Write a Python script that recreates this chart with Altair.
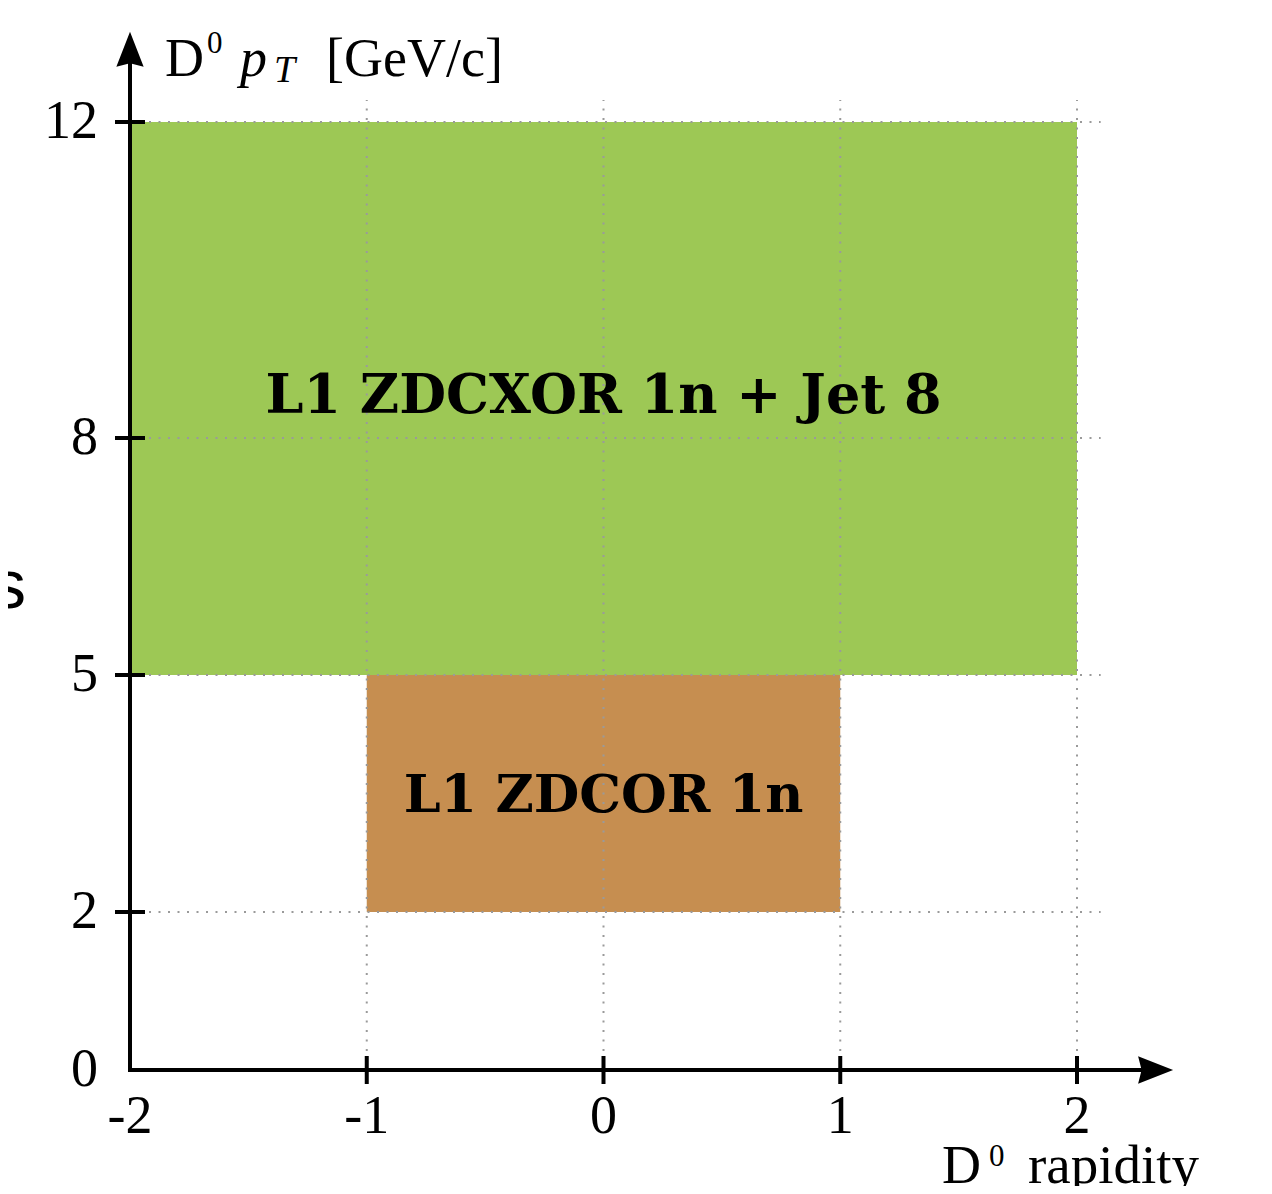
import altair as alt
import pandas as pd

# ---------------- data ----------------
box_labels = ["L1 ZDCXOR 1n + Jet 8", "L1 ZDCOR 1n"]
box_x1 = [-2, -1]
box_x2 = [2, 1]
box_y1 = [5, 2]
box_y2 = [12, 5]
box_colors = ["#9DC855", "#C68E50"]
box_label_x = [0, 0]
box_label_y = [8.32, 3.27]
box_label_size = [54, 52.5]

x_tick_vals = [-1, 0, 1, 2]
y_tick_vals = [2, 5, 8, 12]
x_label_vals = [-2, -1, 0, 1, 2]
x_label_txt = ["-2", "-1", "0", "1", "2"]
y_label_vals = [0, 2, 5, 8, 12]
y_label_txt = ["0", "2", "5", "8", "12"]

grid_x_top = 12.28   # vertical dotted grid lines run from 0 to here
grid_y_right = 2.1   # horizontal dotted grid lines run from -2 to here
x_axis_end = 2.28
y_axis_end = 12.95
x_arrow_center = 2.332
y_arrow_center = 12.92

# ---------------- layout ----------------
W, H = 1250, 1178
PX_X = 236.75   # pixels per rapidity unit
PX_Y = 79.0     # pixels per GeV/c
X0 = -2 - 122 / PX_X
X1 = X0 + W / PX_X
Y1 = 12 + 114 / PX_Y
Y0 = Y1 - H / PX_Y

xs = alt.Scale(domain=[X0, X1], nice=False, zero=False)
ys = alt.Scale(domain=[Y0, Y1], nice=False, zero=False)

SERIF = "Liberation Serif"

df_box = pd.DataFrame({"label": box_labels, "x1": box_x1, "x2": box_x2,
                       "y1": box_y1, "y2": box_y2,
                       "lx": box_label_x, "ly": box_label_y, "fs": box_label_size})

boxes = alt.Chart(df_box).mark_rect().encode(
    x=alt.X("x1:Q", scale=xs, axis=None), x2="x2:Q",
    y=alt.Y("y1:Q", scale=ys, axis=None), y2="y2:Q",
    color=alt.Color("label:N", scale=alt.Scale(domain=box_labels, range=box_colors), legend=None),
)

df_gv = pd.DataFrame({"x": x_tick_vals, "ya": [0] * 4, "yb": [grid_x_top] * 4})
grid_v = alt.Chart(df_gv).mark_rule(color="#9a9a9a", strokeWidth=2, strokeDash=[2, 7.5]).encode(
    x=alt.X("x:Q", scale=xs), y=alt.Y("ya:Q", scale=ys), y2="yb:Q")

df_gh = pd.DataFrame({"y": y_tick_vals, "xa": [-2] * 4, "xb": [grid_y_right] * 4})
grid_h = alt.Chart(df_gh).mark_rule(color="#9a9a9a", strokeWidth=2, strokeDash=[2, 7.5]).encode(
    y=alt.Y("y:Q", scale=ys), x=alt.X("xa:Q", scale=xs), x2="xb:Q")

box_text = alt.Chart(df_box).mark_text(font="DejaVu Serif", fontWeight="bold",
                                       align="center", baseline="alphabetic", color="black").encode(
    x=alt.X("lx:Q", scale=xs), y=alt.Y("ly:Q", scale=ys), text="label:N",
    size=alt.Size("fs:Q", scale=None, legend=None))

df_axes = pd.DataFrame({"xa": [-2, -2], "xb": [x_axis_end, -2], "ya": [0, 0], "yb": [0, y_axis_end]})
axes = alt.Chart(df_axes).mark_rule(color="black", strokeWidth=4, strokeCap="square").encode(
    x=alt.X("xa:Q", scale=xs), x2="xb:Q", y=alt.Y("ya:Q", scale=ys), y2="yb:Q")

arrow_up = alt.Chart(pd.DataFrame({"x": [-2], "y": [y_arrow_center]})).mark_point(
    shape="M0,-1 L0.78,1 L0,0.8 L-0.78,1 Z", size=1225, filled=True, opacity=1,
    color="black", strokeWidth=0).encode(x=alt.X("x:Q", scale=xs), y=alt.Y("y:Q", scale=ys))

arrow_right = alt.Chart(pd.DataFrame({"x": [x_arrow_center], "y": [0]})).mark_point(
    shape="M1,0 L-1,0.78 L-0.8,0 L-1,-0.78 Z", size=1225, filled=True, opacity=1,
    color="black", strokeWidth=0).encode(x=alt.X("x:Q", scale=xs), y=alt.Y("y:Q", scale=ys))

xt = alt.Chart(pd.DataFrame({"t": x_tick_vals})).mark_rule(
    color="black", strokeWidth=4, yOffset=-14, y2Offset=14).encode(
    x=alt.X("t:Q", scale=xs), y=alt.Y(datum=0, scale=ys), y2=alt.Y2(datum=0))

yt = alt.Chart(pd.DataFrame({"t": y_tick_vals})).mark_rule(
    color="black", strokeWidth=4, xOffset=-15, x2Offset=15).encode(
    y=alt.Y("t:Q", scale=ys), x=alt.X(datum=-2, scale=xs), x2=alt.X2(datum=-2))

xl = alt.Chart(pd.DataFrame({"v": x_label_vals, "t": x_label_txt})).mark_text(
    font=SERIF, fontSize=54, align="center", baseline="middle", dy=47, color="black").encode(
    x=alt.X("v:Q", scale=xs), y=alt.Y(datum=0, scale=ys), text="t:N")

yl = alt.Chart(pd.DataFrame({"v": y_label_vals, "t": y_label_txt})).mark_text(
    font=SERIF, fontSize=54, align="right", baseline="middle", dx=-32, color="black").encode(
    y=alt.Y("v:Q", scale=ys), x=alt.X(datum=-2, scale=xs), text="t:N")


def seg(text, x, y, dx, dy, size, style="normal", font=SERIF, align="left"):
    return alt.Chart(pd.DataFrame({"x": [x], "y": [y], "t": [text]})).mark_text(
        font=font, fontSize=size, fontStyle=style, align=align, baseline="alphabetic",
        dx=dx, dy=dy, color="black").encode(
        x=alt.X("x:Q", scale=xs), y=alt.Y("y:Q", scale=ys), text="t:N")


top_y = 12.582
ytitle = [
    seg("D", -2, top_y, 35, 0, 54),
    seg("0", -2, top_y, 77, -23, 31),
    seg("p", -2, top_y, 110, 0, 54, "italic"),
    seg("T", -2, top_y, 144, 6, 38, "italic"),
    seg("[GeV/c]", -2, top_y, 196, 0, 54),
]
xtitle = [
    seg("D", 2, 0, -135, 113, 54),
    seg("0", 2, 0, -88, 96, 31),
    seg("rapidity", 2, 0, -49, 113, 55),
]
stray = seg("s", -2, 5.848, -104, 0, 68, font="Liberation Sans", align="right")

chart = alt.layer(
    boxes, grid_v, grid_h, box_text, axes, xt, yt, arrow_up, arrow_right,
    xl, yl, *ytitle, *xtitle, stray
).properties(
    width=W, height=H, autosize=alt.AutoSizeParams(type="none"), padding=0
).configure_view(stroke=None)

chart.save("out.html", embed_options={"renderer": "svg", "actions": False})
